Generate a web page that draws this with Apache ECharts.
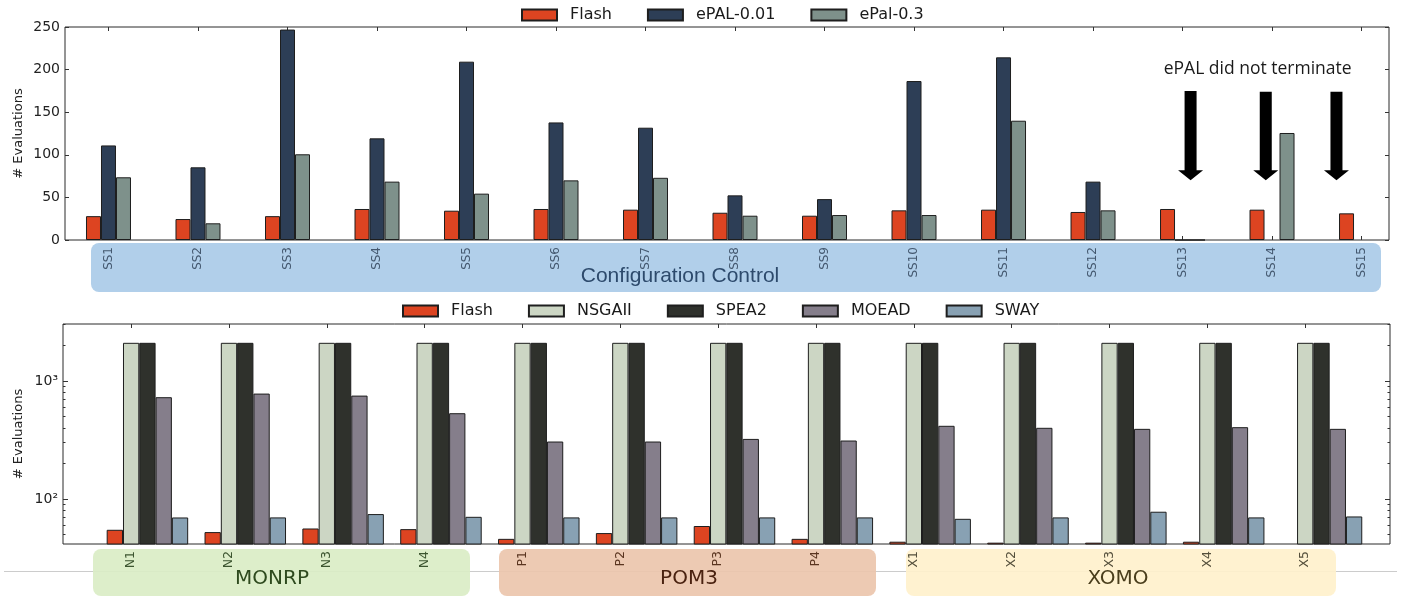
<!DOCTYPE html>
<html><head><meta charset="utf-8">
<script src="https://cdn.jsdelivr.net/npm/echarts@6/dist/echarts.min.js"></script>
<style>html,body{margin:0;padding:0;background:#fff}#c{width:1403px;height:599px}</style>
</head><body><div id="c"></div>
<script>
// ---------- data: top chart ----------
const topCats = ['SS1','SS2','SS3','SS4','SS5','SS6','SS7','SS8','SS9','SS10','SS11','SS12','SS13','SS14','SS15'];
const flashTop = [28, 24.6, 28, 36.4, 34.4, 36.4, 35.6, 32, 28.5, 34.8, 35.6, 32.9, 36.4, 35.6, 31.3];
const epal001 = [111, 85.3, 247, 119.3, 209.3, 138, 131.8, 52.4, 48, 186.6, 214.4, 68.5, 0, null, null];
const epal03 = [73.6, 19.6, 100.6, 68.5, 54.4, 70, 73, 28.5, 29.3, 29.3, 140, 34.8, 0, 125.6, null];
const topTicks = [0, 50, 100, 150, 200, 250];
const arrowX = [12.09, 12.93, 13.72];
const arrowFrom = [175, 174, 174];
const arrowTo = [70, 70, 70];
const noteText = 'ePAL did not terminate';
const notePos = [12.84, 201];
const topGroupLabel = 'Configuration Control';

// ---------- data: bottom chart ----------
const botCats = ['N1','N2','N3','N4','P1','P2','P3','P4','X1','X2','X3','X4','X5'];
const botGroupOf = ['n','n','n','n','p','p','p','p','x','x','x','x','x'];
const botGroupNames = ['MONRP', 'POM3', 'XOMO'];
const flashBot = [55, 52.6, 56.4, 55.7, 46.1, 51.6, 59.2, 46.1, 43.6, 42.8, 42.8, 43.6, null];
const nsgaii = [2100, 2100, 2100, 2100, 2100, 2100, 2100, 2100, 2100, 2100, 2100, 2100, 2100];
const spea2 = [2100, 2100, 2100, 2100, 2100, 2100, 2100, 2100, 2100, 2100, 2100, 2100, 2100];
const moead = [728, 781, 751, 533, 307, 307, 323, 313, 417, 401, 393, 406, 393];
const sway = [69.9, 70, 74.7, 70.8, 70, 70, 70, 70, 68.1, 70, 78.2, 70, 71.3];
const logMajor = [100, 1000];
const logMinor = [50, 60, 70, 80, 90, 200, 300, 400, 500, 600, 700, 800, 900, 2000, 3000];

// ---------- styles ----------
const C = {flash:'#DD4421', epal001:'#2D3E56', epal03:'#7E918B', nsgaii:'#CCD6C4', spea2:'#2F312C', moead:'#857E8B', sway:'#88A1B3'};
const FONT = 'DejaVu Sans';
const EDGE = '#1e1e1e';
const BOT_TICK_OFF = -0.1666;

const chart = echarts.init(document.getElementById('c'), null, {renderer:'canvas'});

function bar(name, vals, color, xi, yi, w) {
  return {type:'bar', name, xAxisIndex:xi, yAxisIndex:yi, barWidth:w, barGap:'0%', clip:true,
    data: vals.map((v,i)=>[i, v]),
    itemStyle:{color, borderColor:EDGE, borderWidth:1}, emphasis:{disabled:true}, animation:false};
}

const topIdx = topCats.map((c,i)=>i);
const botIdx = botCats.map((c,i)=>i + BOT_TICK_OFF);
const tickLine = {color:'#333', width:1};
const noLine = {show:false, onZero:false};
const supers = {'2':'²','3':'³'};

function logAxis(pos, vals, len, labels) {
  return {gridIndex:1, type:'log', logBase:10, min:41.7, max:3030, position:pos,
    axisLine:noLine, splitLine:{show:false}, minorTick:{show:false},
    axisTick:{show:true, inside:true, length:len, customValues:vals, lineStyle:tickLine},
    axisLabel: labels ? {show:true, customValues:vals, margin:5, fontSize:14, color:'#222', fontFamily:FONT,
      formatter: v => '10' + supers[String(Math.round(Math.log10(v)))]} : {show:false}};
}

const option = {
  animation:false,
  backgroundColor:'#fff',
  grid:[
    {left:65, top:27, width:1324, height:213, show:true, borderColor:'#2b2b2b', borderWidth:1, outerBoundsMode:'none', containLabel:false},
    {left:63, top:324, width:1327, height:220, show:true, borderColor:'#2b2b2b', borderWidth:1, outerBoundsMode:'none', containLabel:false}
  ],
  legend:[
    {data:['Flash','ePAL-0.01','ePal-0.3'], left:521, top:7, padding:0, icon:'rect', itemWidth:35, itemHeight:11, itemGap:35,
     textStyle:{fontSize:16, fontFamily:FONT, color:'#1a1a1a', padding:[0,0,0,8]}},
    {data:['Flash','NSGAII','SPEA2','MOEAD','SWAY'], left:402, top:303, padding:0, icon:'rect', itemWidth:35, itemHeight:11, itemGap:35,
     textStyle:{fontSize:16, fontFamily:FONT, color:'#1a1a1a', padding:[0,0,0,8]}}
  ],
  xAxis:[
    {gridIndex:0, type:'value', min:-0.486, max:14.307, position:'bottom',
     axisLine:noLine, splitLine:{show:false},
     axisTick:{show:true, inside:true, length:4, customValues:topIdx, lineStyle:tickLine},
     axisLabel:{show:true, customValues:topIdx, formatter:v=>topCats[Math.round(v)], rotate:90, margin:7,
       fontSize:12, fontFamily:FONT, color:'#44586f'}},
    {gridIndex:0, type:'value', min:-0.486, max:14.307, position:'top',
     axisLine:noLine, splitLine:{show:false},
     axisTick:{show:true, inside:true, length:4, customValues:topIdx, lineStyle:tickLine},
     axisLabel:{show:false}},
    {gridIndex:1, type:'value', min:-0.863, max:12.70, position:'bottom',
     axisLine:noLine, splitLine:{show:false},
     axisTick:{show:true, inside:true, length:4, customValues:botIdx, lineStyle:tickLine},
     axisLabel:{show:true, customValues:botIdx, rotate:90, margin:7,
       formatter:v=>{const i=Math.round(v - BOT_TICK_OFF); return '{'+botGroupOf[i]+'|'+botCats[i]+'}';},
       rich:{n:{fontSize:12.5, fontFamily:FONT, color:'#3c5530'}, p:{fontSize:12.5, fontFamily:FONT, color:'#5a3520'}, x:{fontSize:12.5, fontFamily:FONT, color:'#55503c'}}}},
    {gridIndex:1, type:'value', min:-0.863, max:12.70, position:'top',
     axisLine:noLine, splitLine:{show:false},
     axisTick:{show:true, inside:true, length:4, customValues:botIdx, lineStyle:tickLine},
     axisLabel:{show:false}}
  ],
  yAxis:[
    {gridIndex:0, type:'value', min:0, max:250, interval:50, position:'left',
     axisLine:noLine, splitLine:{show:false},
     axisTick:{show:true, inside:true, length:4, lineStyle:tickLine},
     axisLabel:{show:true, margin:5, fontSize:14, fontFamily:FONT, color:'#222'},
     name:'# Evaluations', nameLocation:'middle', nameGap:40, nameMoveOverlap:false,
     nameTextStyle:{fontSize:13, fontFamily:FONT, color:'#222'}},
    {gridIndex:0, type:'value', min:0, max:250, interval:50, position:'right',
     axisLine:noLine, splitLine:{show:false},
     axisTick:{show:true, inside:true, length:4, lineStyle:tickLine}, axisLabel:{show:false}},
    Object.assign(logAxis('left', logMajor, 5, true), {name:'# Evaluations', nameLocation:'middle', nameGap:38, nameMoveOverlap:false,
      nameTextStyle:{fontSize:13, fontFamily:FONT, color:'#222'}}),
    logAxis('left', logMinor, 2.5, false),
    logAxis('right', logMajor, 5, false),
    logAxis('right', logMinor, 2.5, false)
  ],
  series:[
    bar('Flash', flashTop, C.flash, 0, 0, 15),
    bar('ePAL-0.01', epal001, C.epal001, 0, 0, 15),
    bar('ePal-0.3', epal03, C.epal03, 0, 0, 15),
    {type:'custom', name:'arrows', xAxisIndex:0, yAxisIndex:0, silent:true, z:5,
     data: arrowX.map((x,i)=>[x, arrowFrom[i], arrowTo[i]]), encode:{x:0, y:[1,2]},
     renderItem:(params, api)=>{
       const a = api.coord([api.value(0), api.value(1)]);
       const b = api.coord([api.value(0), api.value(2)]);
       const x = a[0], sw = 6, hw = 12.5, hh = 10;
       return {type:'polygon', shape:{points:[[x-sw,a[1]],[x+sw,a[1]],[x+sw,b[1]-hh],[x+hw,b[1]-hh],[x,b[1]],[x-hw,b[1]-hh],[x-sw,b[1]-hh]]},
         style:{fill:'#000'}};
     }},
    {type:'custom', name:'note', xAxisIndex:0, yAxisIndex:0, silent:true, z:5,
     data:[notePos], encode:{x:0, y:1},
     renderItem:(params, api)=>{
       const p = api.coord([api.value(0), api.value(1)]);
       return {type:'text', style:{text:noteText, x:p[0], y:p[1], align:'center', verticalAlign:'middle',
         fontSize:17.5, fontFamily:'Open Sans', fill:'#1a1a1a'}};
     }},
    bar('Flash', flashBot, C.flash, 2, 2, 16.3),
    bar('NSGAII', nsgaii, C.nsgaii, 2, 2, 16.3),
    bar('SPEA2', spea2, C.spea2, 2, 2, 16.3),
    bar('MOEAD', moead, C.moead, 2, 2, 16.3),
    bar('SWAY', sway, C.sway, 2, 2, 16.3)
  ],
  graphic:[
    {type:'line', z:-3, silent:true, shape:{x1:4, y1:571.5, x2:1397, y2:571.5}, style:{stroke:'#cccccc', lineWidth:1}},
    {type:'rect', z:-2, silent:true, shape:{x:91, y:243, width:1290, height:49, r:8}, style:{fill:'#B1CFEA'}},
    {type:'text', z:10, silent:true, style:{text:topGroupLabel, x:680, y:276, align:'center', verticalAlign:'middle', fontSize:21, fontFamily:'Liberation Sans', fill:'#2d4a6c'}},
    {type:'rect', z:-2, silent:true, shape:{x:93, y:549, width:377, height:47, r:8}, style:{fill:'#DAEDC5', opacity:0.92}},
    {type:'rect', z:-2, silent:true, shape:{x:499, y:549, width:377, height:47, r:8}, style:{fill:'#EBC5AD', opacity:0.92}},
    {type:'rect', z:-2, silent:true, shape:{x:906, y:549, width:430, height:47, r:8}, style:{fill:'#FFF1CC', opacity:0.92}},
    {type:'text', z:10, silent:true, style:{text:botGroupNames[0], x:272, y:579, align:'center', verticalAlign:'middle', fontSize:20, fontFamily:FONT, fill:'#2e4a1e'}},
    {type:'text', z:10, silent:true, style:{text:botGroupNames[1], x:689, y:579, align:'center', verticalAlign:'middle', fontSize:20, fontFamily:FONT, fill:'#4a2210'}},
    {type:'text', z:10, silent:true, style:{text:botGroupNames[2], x:1118, y:579, align:'center', verticalAlign:'middle', fontSize:20, fontFamily:FONT, fill:'#4a3e1c'}}
  ]
};
chart.setOption(option);
</script></body></html>
